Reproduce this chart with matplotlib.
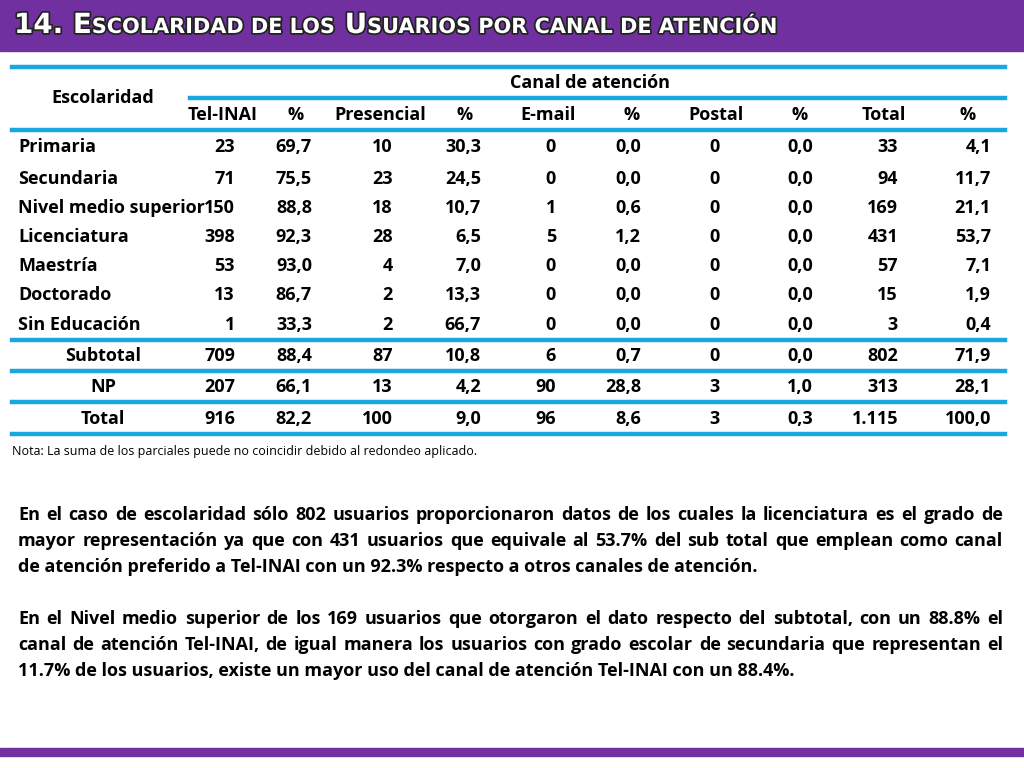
import matplotlib.pyplot as plt
import matplotlib.patheffects as pe
from matplotlib.lines import Line2D
from matplotlib.patches import Rectangle

W, H = 1024, 768
BLUE = '#1AA7E0'
PURPLE = '#7030A0'
FONT = ['Liberation Sans Narrow', 'Open Sans', 'DejaVu Sans']

# datos
row_labels = ['Primaria', 'Secundaria', 'Nivel medio superior', 'Licenciatura',
              'Maestría', 'Doctorado', 'Sin Educación', 'Subtotal', 'NP', 'Total']
tel = ['23', '71', '150', '398', '53', '13', '1', '709', '207', '916']
tel_p = ['69,7', '75,5', '88,8', '92,3', '93,0', '86,7', '33,3', '88,4', '66,1', '82,2']
pres = ['10', '23', '18', '28', '4', '2', '2', '87', '13', '100']
pres_p = ['30,3', '24,5', '10,7', '6,5', '7,0', '13,3', '66,7', '10,8', '4,2', '9,0']
email = ['0', '0', '1', '5', '0', '0', '0', '6', '90', '96']
email_p = ['0,0', '0,0', '0,6', '1,2', '0,0', '0,0', '0,0', '0,7', '28,8', '8,6']
postal = ['0', '0', '0', '0', '0', '0', '0', '0', '3', '3']
postal_p = ['0,0'] * 8 + ['1,0', '0,3']
total = ['33', '94', '169', '431', '57', '15', '3', '802', '313', '1.115']
total_p = ['4,1', '11,7', '21,1', '53,7', '7,1', '1,9', '0,4', '71,9', '28,1', '100,0']
headers = ['Tel-INAI', '%', 'Presencial', '%', 'E-mail', '%', 'Postal', '%', 'Total', '%']

paragraphs = [
    ['En el caso de escolaridad sólo 802 usuarios proporcionaron datos de los cuales la licenciatura es el grado de',
     'mayor representación ya que con 431 usuarios que equivale al 53.7% del sub total que emplean como canal',
     'de atención preferido a Tel-INAI con un 92.3% respecto a otros canales de atención.'],
    ['En el Nivel medio superior de los 169 usuarios que otorgaron el dato respecto del subtotal, con un 88.8% el',
     'canal de atención Tel-INAI, de igual manera los usuarios con grado escolar de secundaria que representan el',
     '11.7% de los usuarios, existe un mayor uso del canal de atención Tel-INAI con un 88.4%.'],
]

fig = plt.figure(figsize=(W / 100, H / 100), dpi=100)
fig.patch.set_facecolor('white')


def fx(x):
    return x / W


def fy(y):
    return 1 - y / H


def txt(x, y, s, **kw):
    kw.setdefault('family', FONT)
    kw.setdefault('fontsize', 13)
    kw.setdefault('weight', 'bold')
    kw.setdefault('va', 'center')
    return fig.text(fx(x), fy(y), s, **kw)


def hline(x0, x1, y, lw=3.2):
    fig.add_artist(Line2D([fx(x0), fx(x1)], [fy(y), fy(y)], color=BLUE, lw=lw))


# barras moradas
fig.add_artist(Rectangle((0, fy(51)), 1, 51 / H, color=PURPLE))
fig.add_artist(Rectangle((0, fy(756)), 1, 8 / H, color=PURPLE))

# titulo en versalitas
renderer = fig.canvas.get_renderer()
effects = [pe.withStroke(linewidth=2.5, foreground='#222222')]
title_parts = [('14. E', 20), ('SCOLARIDAD DE LOS ', 15), ('U', 20),
               ('SUARIOS POR CANAL DE ATENCIÓN', 15)]
x = 14
for s, size in title_parts:
    t = fig.text(fx(x), fy(33), s, family='DejaVu Sans', weight='bold', fontsize=size,
                 color='white', va='baseline', path_effects=effects)
    x += t.get_window_extent(renderer).width + (3 if s.endswith(' ') else 0)

# lineas de la tabla
hline(12, 1005, 67)
hline(190, 1005, 98)
for y in [130, 340, 371, 402, 434]:
    hline(12, 1005, y)

# encabezados
txt(103, 98, 'Escolaridad', ha='center')
txt(590, 83, 'Canal de atención', ha='center')
head_x = [223, 296, 380, 465, 548, 632, 716, 800, 884, 968]
for hx, h in zip(head_x, headers):
    txt(hx, 115, h, ha='center')

# filas
row_y = [147, 179, 208, 237, 266, 295, 325, 356, 387, 419]
right_x = [235, 312, 393, 481, 556, 641, 720, 813, 898, 991]
cols = [tel, tel_p, pres, pres_p, email, email_p, postal, postal_p, total, total_p]
for i, (lab, ry) in enumerate(zip(row_labels, row_y)):
    if i < 7:
        txt(18, ry, lab, ha='left')
    else:
        txt(103, ry, lab, ha='center')
    for rx, col in zip(right_x, cols):
        txt(rx, ry, col[i], ha='right')

txt(12, 451, 'Nota: La suma de los parciales puede no coincidir debido al redondeo aplicado.',
    weight='normal', fontsize=9, ha='left')

# parrafos justificados
x0, x1 = 18, 1003
y = 515
for para in paragraphs:
    for j, line in enumerate(para):
        words = line.split(' ')
        if j == len(para) - 1:
            txt(x0, y, line, ha='left', fontsize=13)
        else:
            arts = [txt(0, y, w, ha='left', fontsize=13) for w in words]
            widths = [a.get_window_extent(renderer).width for a in arts]
            gap = (x1 - x0 - sum(widths)) / (len(words) - 1)
            cx = x0
            for a, w in zip(arts, widths):
                a.set_x(fx(cx))
                cx += w + gap
        y += 26
    y += 26

fig.savefig('out.png', dpi=100)
